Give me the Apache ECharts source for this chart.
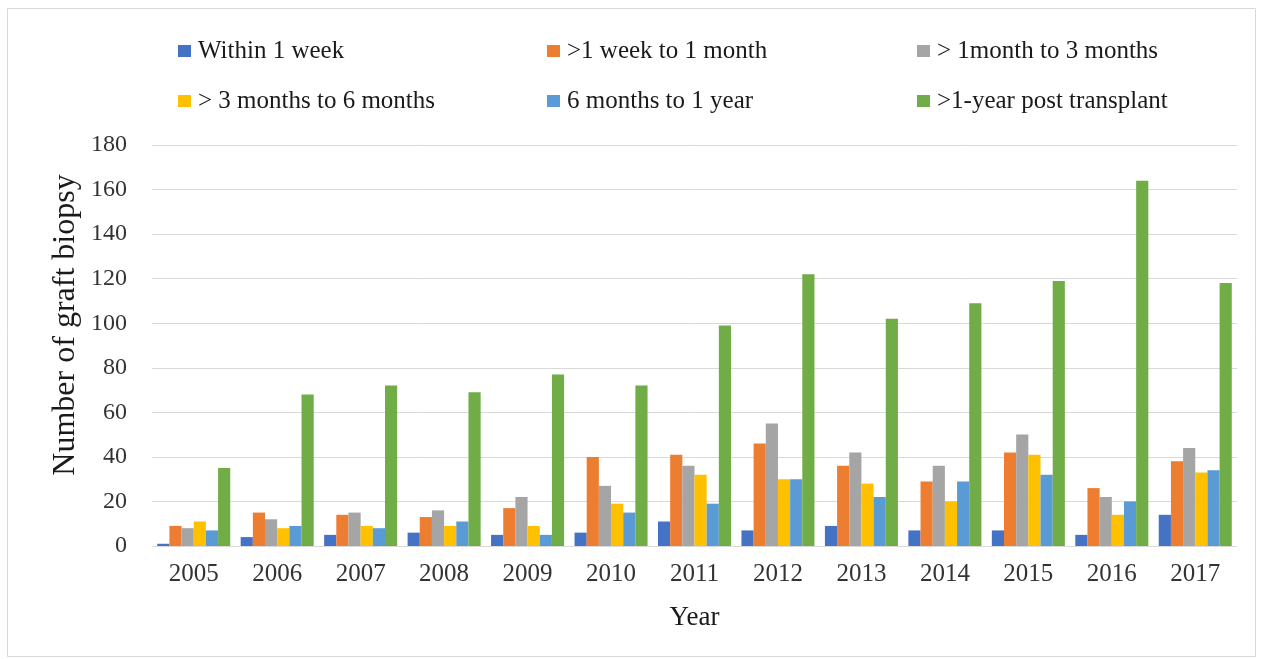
<!DOCTYPE html>
<html>
<head>
<meta charset="utf-8">
<title>Number of graft biopsy by year</title>
<script src="https://cdn.jsdelivr.net/npm/echarts@6/dist/echarts.min.js"></script>
<style>
  html, body { margin: 0; padding: 0; background: #ffffff; }
  #chart { width: 1264px; height: 659px; }
</style>
</head>
<body>
<div id="chart"></div>
<script>
// Years on the category axis
const years = ['2005', '2006', '2007', '2008', '2009', '2010', '2011', '2012', '2013', '2014', '2015', '2016', '2017'];

// Biopsy counts per time-after-transplant group
const within1Week      = [1, 4, 5, 6, 5, 6, 11, 7, 9, 7, 7, 5, 14];
const week1ToMonth1    = [9, 15, 14, 13, 17, 40, 41, 46, 36, 29, 42, 26, 38];
const month1ToMonth3   = [8, 12, 15, 16, 22, 27, 36, 55, 42, 36, 50, 22, 44];
const month3ToMonth6   = [11, 8, 9, 9, 9, 19, 32, 30, 28, 20, 41, 14, 33];
const month6ToYear1    = [7, 9, 8, 11, 5, 15, 19, 30, 22, 29, 32, 20, 34];
const overYear1        = [35, 68, 72, 69, 77, 72, 99, 122, 102, 109, 119, 164, 118];

// Y-axis ticks
const yTicks = [0, 20, 40, 60, 80, 100, 120, 140, 160, 180];

const seriesDefs = [
  { name: 'Within 1 week',            data: within1Week,    color: '#4472C4' },
  { name: '>1 week to 1 month',       data: week1ToMonth1,  color: '#ED7D31' },
  { name: '> 1month to 3 months',     data: month1ToMonth3, color: '#A5A5A5' },
  { name: '> 3 months to 6 months',   data: month3ToMonth6, color: '#FFC000' },
  { name: '6 months to 1 year',       data: month6ToYear1,  color: '#5B9BD5' },
  { name: '>1-year post transplant',  data: overYear1,      color: '#70AD47' }
];

const serif = '"Liberation Serif", "Times New Roman", "DejaVu Serif", serif';

// Legend slots: two rows of three
const legendSlots = [
  { left: 178, top: 38 }, { left: 547, top: 38 }, { left: 917, top: 38 },
  { left: 178, top: 88 }, { left: 547, top: 88 }, { left: 917, top: 88 }
];

const chart = echarts.init(document.getElementById('chart'), null, { renderer: 'canvas' });

const option = {
  backgroundColor: '#ffffff',
  animation: false,
  legend: seriesDefs.map((s, i) => ({
    data: [s.name],
    left: legendSlots[i].left,
    top: legendSlots[i].top,
    padding: 0,
    itemWidth: 13,
    itemHeight: 12,
    itemGap: 0,
    icon: 'rect',
    textStyle: { fontFamily: serif, fontSize: 25, color: '#1a1a1a', lineHeight: 26, padding: [0, 0, 0, 2] }
  })),
  grid: { left: 152, right: 27, top: 145, bottom: 113, containLabel: false },
  xAxis: {
    type: 'category',
    data: years,
    name: 'Year',
    nameLocation: 'middle',
    nameGap: 58,
    nameTextStyle: { fontFamily: serif, fontSize: 27, color: '#1a1a1a' },
    axisLine: { show: true, lineStyle: { color: '#d9d9d9', width: 1 } },
    axisTick: { show: false },
    axisLabel: { fontFamily: serif, fontSize: 25, color: '#333333', margin: 16 }
  },
  yAxis: {
    type: 'value',
    min: yTicks[0],
    max: yTicks[yTicks.length - 1],
    interval: yTicks[1] - yTicks[0],
    axisLine: { show: false },
    axisTick: { show: false },
    splitLine: { show: true, lineStyle: { color: '#d9d9d9', width: 1 } },
    axisLabel: { fontFamily: serif, fontSize: 24, color: '#333333', margin: 25 }
  },
  graphic: [
    {
      type: 'rect',
      shape: { x: 7.5, y: 8.5, width: 1248, height: 648 },
      style: { fill: 'none', stroke: '#d9d9d9', lineWidth: 1 },
      silent: true,
      z: -10
    },
    {
      type: 'text',
      x: 66,
      y: 325,
      rotation: Math.PI / 2,
      style: {
        text: 'Number of graft biopsy',
        fontFamily: serif,
        fontSize: 32,
        fill: '#1a1a1a',
        align: 'center',
        verticalAlign: 'middle'
      }
    }
  ],
  series: seriesDefs.map(s => ({
    name: s.name,
    type: 'bar',
    data: s.data,
    itemStyle: { color: s.color },
    barGap: '0%',
    barCategoryGap: '12.5%'
  }))
};

chart.setOption(option);
</script>
</body>
</html>
